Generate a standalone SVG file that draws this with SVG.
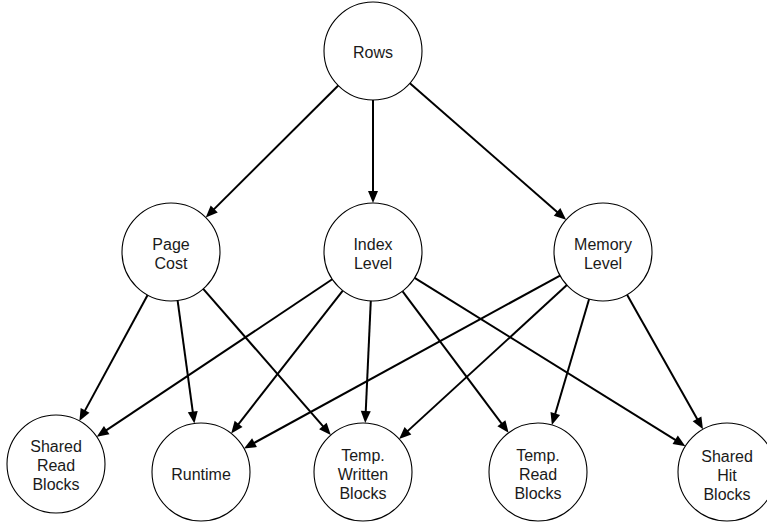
<svg xmlns="http://www.w3.org/2000/svg" width="767" height="523" viewBox="0 0 767 523">
<style>
.node circle{fill:#fff;stroke:#000;stroke-width:1.1}
.node text{font-family:"Liberation Sans",Arial,Helvetica,sans-serif;font-size:16px;fill:#1a1a1a;text-anchor:middle}
.edges line{stroke:#000;stroke-width:2;marker-end:url(#arr)}
</style>
<defs>
<marker id="arr" markerUnits="userSpaceOnUse" markerWidth="13" markerHeight="11" refX="2" refY="0" viewBox="0 -5.5 13 11" orient="auto" overflow="visible">
<path d="M0,-5 L12,0 L0,5 z" fill="#000"/>
</marker>
</defs>
<rect width="767" height="523" fill="#fff"/>
<g class="edges" id="edges">
<line x1="338.27" y1="85.56" x2="212.82" y2="210.39"/>
<line x1="373" y1="100" x2="373" y2="193"/>
<line x1="409.90" y1="83.24" x2="558.57" y2="213.18"/>
<line x1="147.64" y1="295.07" x2="84.13" y2="412.14"/>
<line x1="177.62" y1="300.55" x2="193.03" y2="413.54"/>
<line x1="203.22" y1="288.92" x2="324.21" y2="427.55"/>
<line x1="332.27" y1="279.24" x2="105.04" y2="431.20"/>
<line x1="342.82" y1="290.60" x2="237.34" y2="425.52"/>
<line x1="370.78" y1="300.95" x2="365.68" y2="413.06"/>
<line x1="402.4" y1="291.2" x2="502.6" y2="424.8"/>
<line x1="414.62" y1="277.86" x2="676.89" y2="440.86"/>
<line x1="560.02" y1="275.52" x2="252.76" y2="443.67"/>
<line x1="566.88" y1="285.11" x2="406.49" y2="432.13"/>
<line x1="589.12" y1="298.99" x2="554.72" y2="415.42"/>
<line x1="627.06" y1="294.69" x2="698.03" y2="420.60"/>
</g>
<g class="node" id="rows"><circle cx="373" cy="51" r="49"/><text x="373" y="58">Rows</text></g>
<g class="node" id="page-cost"><circle cx="171" cy="252" r="49"/><text x="171" y="250">Page</text><text x="171" y="269">Cost</text></g>
<g class="node" id="index-level"><circle cx="373" cy="252" r="49"/><text x="373" y="250">Index</text><text x="373" y="269">Level</text></g>
<g class="node" id="memory-level"><circle cx="603" cy="252" r="49"/><text x="603" y="250">Memory</text><text x="603" y="269">Level</text></g>
<g class="node" id="shared-read-blocks"><circle cx="56" cy="464" r="49"/><text x="56" y="452">Shared</text><text x="56" y="471">Read</text><text x="56" y="490">Blocks</text></g>
<g class="node" id="runtime"><circle cx="201" cy="472" r="49"/><text x="201" y="480">Runtime</text></g>
<g class="node" id="temp-written-blocks"><circle cx="363" cy="472" r="49"/><text x="363" y="461">Temp.</text><text x="363" y="480">Written</text><text x="363" y="499">Blocks</text></g>
<g class="node" id="temp-read-blocks"><circle cx="538" cy="472" r="49"/><text x="538" y="461">Temp.</text><text x="538" y="480">Read</text><text x="538" y="499">Blocks</text></g>
<g class="node" id="shared-hit-blocks"><circle cx="727" cy="472" r="49"/><text x="727" y="462">Shared</text><text x="727" y="481">Hit</text><text x="727" y="500">Blocks</text></g>
</svg>
